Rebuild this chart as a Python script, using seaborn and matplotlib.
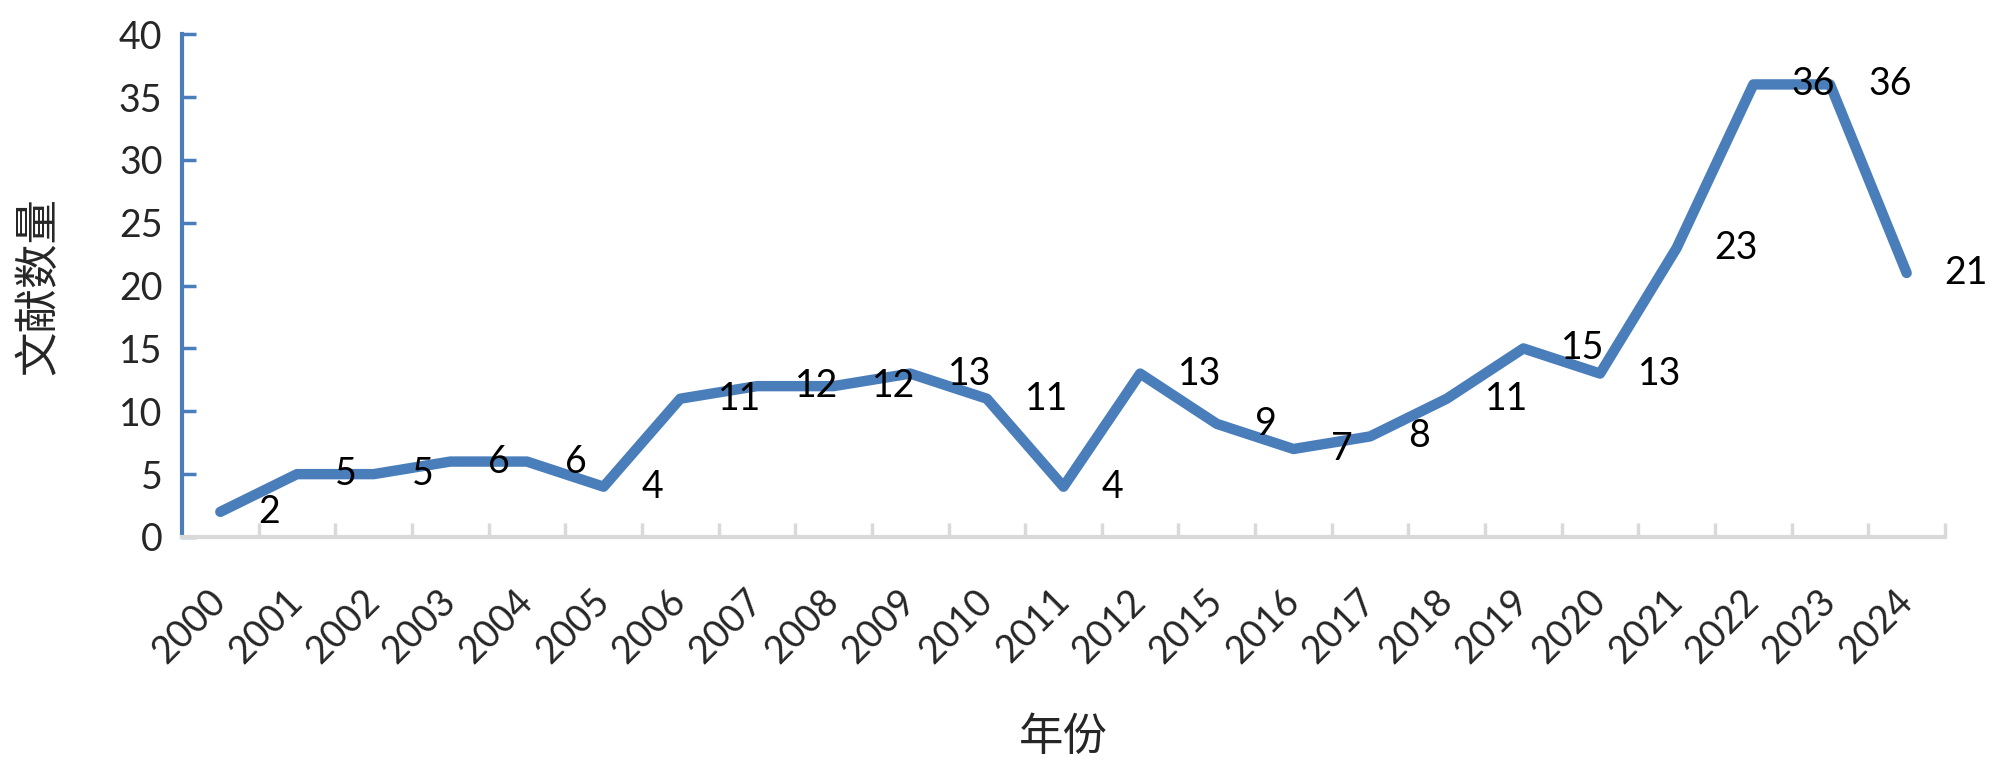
import numpy as np
import pandas as pd
import matplotlib
matplotlib.use("Agg")
import matplotlib.pyplot as plt
from matplotlib.ticker import FixedLocator
import seaborn as sns

years = ["2000", "2001", "2002", "2003", "2004", "2005", "2006", "2007", "2008",
         "2009", "2010", "2011", "2012", "2015", "2016", "2017", "2018", "2019",
         "2020", "2021", "2022", "2023", "2024"]
counts = [2, 5, 5, 6, 6, 4, 11, 12, 12, 13, 11, 4, 13, 9, 7, 8, 11, 15, 13, 23, 36, 36, 21]

df = pd.DataFrame({"年份": years, "文献数量": counts})

sns.set_style("white")
plt.rcParams["font.family"] = ["Lato", "Noto Sans CJK SC", "DejaVu Sans"]
plt.rcParams["font.size"] = 27

blue = "#4a7ebb"
grey = "#d9d9d9"

fig = plt.figure(figsize=(20, 7.76), dpi=100)
ax = fig.add_axes([0.091, 0.308, 0.8815, 0.648])

sns.lineplot(data=df, x="年份", y="文献数量", ax=ax, color=blue, linewidth=7.5,
             sort=False)
for line in ax.get_lines():
    line.set_solid_capstyle("round")
    line.set_solid_joinstyle("round")

# data labels to the right of each point
for i, v in enumerate(counts):
    ax.annotate(str(v), (i, v), xytext=(38, 0), textcoords="offset pixels",
                ha="left", va="center", fontsize=27, color="black")

ax.set_xlim(-0.5, len(years) - 0.5)
ax.set_ylim(0, 40)
ax.set_yticks(range(0, 41, 5))

for s in ["top", "right"]:
    ax.spines[s].set_visible(False)
ax.spines["left"].set_color(blue)
ax.spines["left"].set_linewidth(3)
ax.spines["bottom"].set_color(grey)
ax.spines["bottom"].set_linewidth(3)

ax.tick_params(axis="y", direction="in", length=10, width=2.5, color=blue,
               pad=14, labelsize=27, left=True)
ax.tick_params(axis="x", which="major", length=0, pad=42, labelsize=27)
ax.xaxis.set_minor_locator(FixedLocator(np.arange(0.5, len(years), 1.0)))
ax.tick_params(axis="x", which="minor", direction="in", length=10, width=2.5,
               color=grey, bottom=True)
for lab in ax.get_xticklabels():
    lab.set_rotation(45)
    lab.set_rotation_mode("anchor")
    lab.set_ha("right")
    lab.set_va("center")

ax.set_xlabel("年份", fontsize=32, family=["Noto Sans CJK SC"])
ax.set_ylabel("文献数量", fontsize=32, family=["Noto Sans CJK SC"])
ax.xaxis.set_label_coords(0.5, -0.398)
ax.xaxis.label.set_va("center")
ax.yaxis.set_label_coords(-0.0817, 0.5)
ax.yaxis.label.set_va("center")

fig.savefig("out.png", dpi=100)
